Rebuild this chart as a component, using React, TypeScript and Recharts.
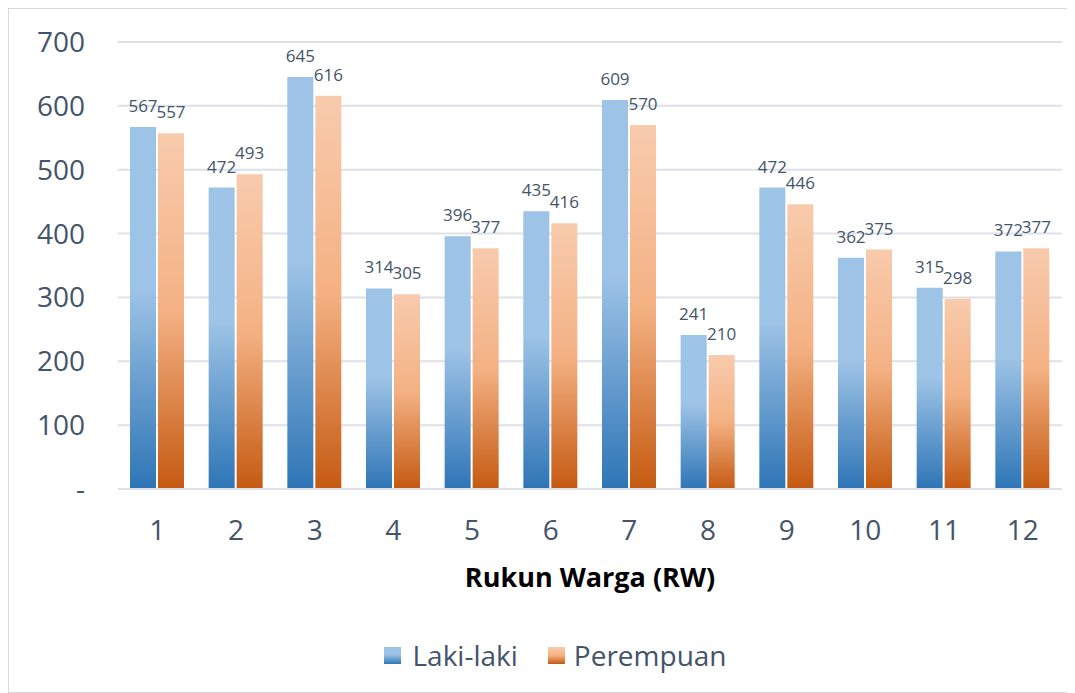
import React from 'react';
import { BarChart, Bar, XAxis, YAxis, CartesianGrid, Legend, LabelList } from 'recharts';

const rwLabels = ['1', '2', '3', '4', '5', '6', '7', '8', '9', '10', '11', '12'];
const lakiLaki = [567, 472, 645, 314, 396, 435, 609, 241, 472, 362, 315, 372];
const perempuan = [557, 493, 616, 305, 377, 416, 570, 210, 446, 375, 298, 377];
const yTicks = [0, 100, 200, 300, 400, 500, 600, 700];

const FONT = '"Open Sans", "Noto Sans", sans-serif';
const TEXT = '#44546a';
const GRID = '#dde1e7';

const data = rwLabels.map((rw, i) => ({ rw, laki: lakiLaki[i], perempuan: perempuan[i] }));

const LegendContent = () => (
  <div style={{ display: 'flex', justifyContent: 'center', alignItems: 'center', height: 40, paddingLeft: 40, fontFamily: FONT, fontSize: 28, color: TEXT }}>
    <span style={{ display: 'inline-block', width: 17, height: 17, background: 'linear-gradient(#9dc3e6 0%, #9dc3e6 45%, #2e75b6 100%)', marginRight: 11 }} />
    <span style={{ marginRight: 30 }}>Laki-laki</span>
    <span style={{ display: 'inline-block', width: 17, height: 17, background: 'linear-gradient(#f8cbad 0%, #f4b183 50%, #c55a11 100%)', marginRight: 9 }} />
    <span>Perempuan</span>
  </div>
);

const App: React.FC = () => {
  return (
    <div style={{ width: 1065, height: 683, border: '1px solid #d9d9d9', background: '#fff' }}>
      <style>{'body{overflow:hidden}'}</style>
      <BarChart
        width={1065}
        height={683}
        data={data}
        margin={{ top: 33, right: 12, left: 0, bottom: 17 }}
        barSize={26}
        barGap={2}
      >
        <defs>
          <linearGradient id="gradBlue" x1="0" y1="0" x2="0" y2="1">
            <stop offset="0%" stopColor="#9dc3e6" />
            <stop offset="45%" stopColor="#9dc3e6" />
            <stop offset="100%" stopColor="#2e75b6" />
          </linearGradient>
          <linearGradient id="gradOrange" x1="0" y1="0" x2="0" y2="1">
            <stop offset="0%" stopColor="#f8cbad" />
            <stop offset="50%" stopColor="#f4b183" />
            <stop offset="100%" stopColor="#c55a11" />
          </linearGradient>
        </defs>
        <CartesianGrid vertical={false} stroke={GRID} strokeWidth={2} />
        <XAxis
          dataKey="rw"
          height={146}
          tickLine={false}
          tickSize={0}
          tickMargin={31}
          axisLine={{ stroke: GRID, strokeWidth: 2 }}
          tick={{ fill: TEXT, fontSize: 28, fontFamily: FONT }}
          label={{ value: 'Rukun Warga (RW)', position: 'insideBottom', offset: 48, fill: '#000', fontSize: 27, fontWeight: 700, fontFamily: FONT }}
        />
        <YAxis
          width={109}
          domain={[0, 700]}
          ticks={yTicks}
          axisLine={false}
          tickLine={false}
          tickSize={0}
          tickMargin={33}
          tickFormatter={(v: number) => (v === 0 ? '-' : String(v))}
          tick={{ fill: TEXT, fontSize: 28, fontFamily: FONT }}
        />
        <Legend verticalAlign="bottom" height={40} content={<LegendContent />} />
        <Bar dataKey="laki" name="Laki-laki" fill="url(#gradBlue)" isAnimationActive={false}>
          <LabelList dataKey="laki" position="top" offset={15} fill={TEXT} fontSize={17} fontFamily={FONT} />
        </Bar>
        <Bar dataKey="perempuan" name="Perempuan" fill="url(#gradOrange)" isAnimationActive={false}>
          <LabelList dataKey="perempuan" position="top" offset={15} fill={TEXT} fontSize={17} fontFamily={FONT} />
        </Bar>
      </BarChart>
    </div>
  );
};

export default App;
